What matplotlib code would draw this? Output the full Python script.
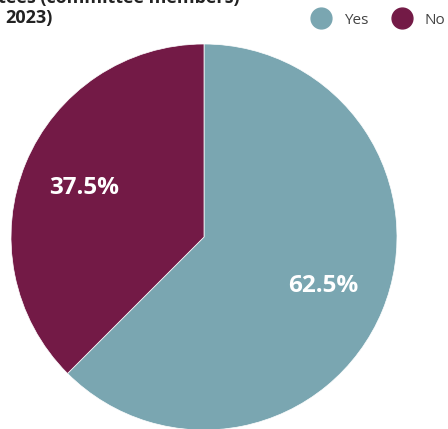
import matplotlib.pyplot as plt
from matplotlib.lines import Line2D

labels = ["Yes", "No"]
shares = [62.5, 37.5]
colors = ["#7aa6b1", "#731a46"]
title_lines = ["Share of committees (committee members)", "2023)"]

plt.rcParams["font.family"] = ["Open Sans", "DejaVu Sans"]

fig = plt.figure(figsize=(4.48, 4.29), dpi=100)
ax = fig.add_axes([11 / 448, -1 / 429, 386 / 448, 386 / 429])

wedges, texts, autotexts = ax.pie(
    shares, colors=colors, startangle=90, counterclock=False,
    autopct="%.1f%%", pctdistance=0.67,
    wedgeprops=dict(linewidth=0.5, edgecolor="white"),
    textprops=dict(color="white", fontsize=17.5, fontweight="bold"),
)
ax.set_xlim(-1.0, 1.0)
ax.set_ylim(-1.0, 1.0)
ax.set_aspect("equal")

# title is partly cut off at the top/left of the image
fig.text(240 / 448, 1 - 3 / 429, title_lines[0], fontsize=13, fontweight="bold",
         ha="right", va="baseline", color="#222222")
fig.text(5 / 448, 1 - 23 / 429, title_lines[1], fontsize=13, fontweight="bold",
         ha="left", va="baseline", color="#222222")

handles = [Line2D([], [], marker="o", linestyle="", markersize=15,
                  markerfacecolor=c, markeredgecolor=c) for c in colors]
fig.legend(handles, labels, loc="center left", bbox_to_anchor=(0.651, 0.953),
           ncol=2, frameon=False, fontsize=11, handletextpad=0.5,
           columnspacing=1.2, labelcolor="#444444")

fig.savefig("out.png", dpi=100)
